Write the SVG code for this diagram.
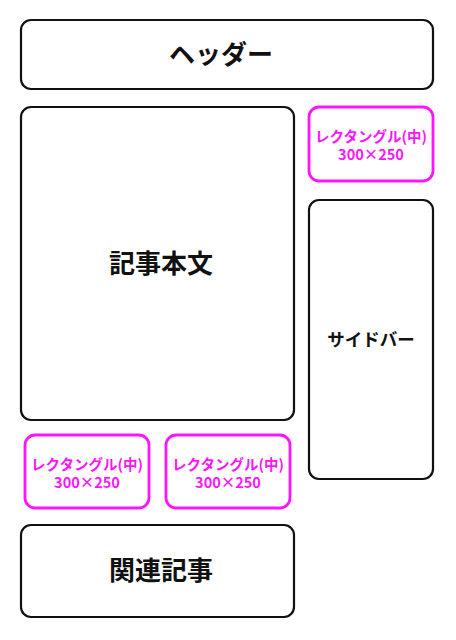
<svg xmlns="http://www.w3.org/2000/svg" width="456" height="640" viewBox="0 0 456 640">
<style>
.box{fill:#fff;stroke:#111;stroke-width:2.2}
.ad{fill:#fff;stroke:#ff14ff;stroke-width:2.8}
.t{font-family:"Noto Sans CJK JP","Noto Sans",sans-serif;font-weight:bold;text-anchor:middle;fill:#111}
.at{font-family:"Noto Sans CJK JP","Noto Sans",sans-serif;font-weight:bold;text-anchor:middle;fill:#ff14ff;font-size:14.5px}
</style>
<rect width="456" height="640" fill="#fff"/>
<g id="header"><rect class="box" x="21" y="20" width="412" height="69" rx="10"/><text class="t" x="221" y="64" font-size="26">ヘッダー</text></g>
<g id="article"><rect class="box" x="21" y="107" width="273" height="313" rx="10"/><text class="t" x="161" y="273" font-size="26">記事本文</text></g>
<g id="ad-top"><rect class="ad" x="309" y="107" width="124" height="74" rx="10"/><text class="at" x="371" y="142">レクタングル(中)<tspan x="371" dy="18">300×250</tspan></text></g>
<g id="sidebar"><rect class="box" x="309" y="200" width="124" height="279" rx="10"/><text class="t" x="371" y="346" font-size="17.5">サイドバー</text></g>
<g id="ad-left"><rect class="ad" x="25" y="435" width="124" height="73" rx="10"/><text class="at" x="87" y="470">レクタングル(中)<tspan x="87" dy="18">300×250</tspan></text></g>
<g id="ad-right"><rect class="ad" x="166" y="435" width="124" height="73" rx="10"/><text class="at" x="228" y="470">レクタングル(中)<tspan x="228" dy="18">300×250</tspan></text></g>
<g id="related"><rect class="box" x="21" y="525" width="273" height="92" rx="10"/><text class="t" x="161" y="580" font-size="26">関連記事</text></g>
<g id="connectors"></g>
</svg>
